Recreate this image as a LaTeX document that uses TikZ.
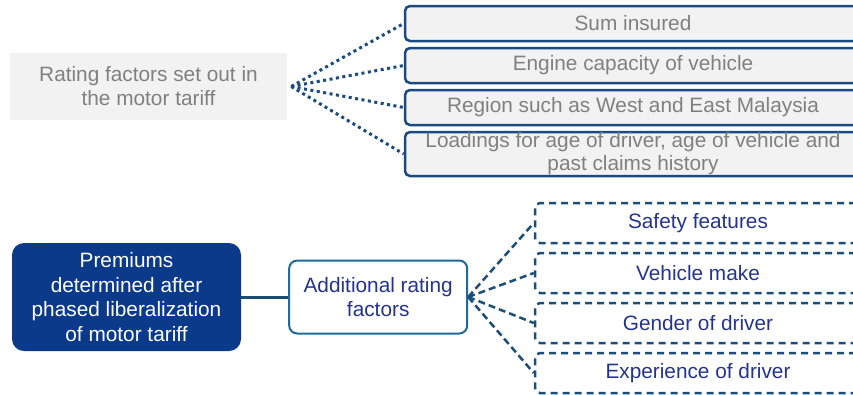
\documentclass[tikz,border=0pt]{standalone}
\usepackage{fontspec}
\setmainfont{Liberation Sans}
\usepackage{xcolor}
\usetikzlibrary{positioning}
\definecolor{tarblue}{RGB}{26,74,130}
\definecolor{tarfill}{RGB}{242,242,242}
\definecolor{tartext}{RGB}{128,128,128}
\definecolor{navyfill}{RGB}{11,58,138}
\definecolor{addblue}{RGB}{30,106,154}
\definecolor{addtext}{RGB}{36,52,142}
\definecolor{dashblue}{RGB}{28,78,122}
\definecolor{linkblue}{RGB}{26,76,112}

\begin{document}
\begin{tikzpicture}[x=1pt, y=-1pt, font=\fontsize{20.8}{24}\selectfont,
  tarbox/.style={draw=tarblue, line width=2.5pt, fill=tarfill, rounded corners=5pt,
    minimum width=456pt, minimum height=35pt, inner sep=0pt, text=tartext, align=center},
  dashbox/.style={draw=dashblue, line width=2.5pt, dash pattern=on 7pt off 5pt, rounded corners=5pt,
    minimum width=326pt, minimum height=40pt, inner sep=0pt, text=addtext},
  dotlink/.style={draw=tarblue, line width=3pt, dash pattern=on 3pt off 3.5pt},
  dashlink/.style={draw=dashblue, line width=2.5pt, dash pattern=on 7pt off 4pt}]
  \useasboundingbox (0,0) rectangle (853,394);
  \clip (0,0) rectangle (853,394);

  % tariff factors
  \node[fill=gray!10, minimum width=277pt, minimum height=67pt, text=tartext, align=center] (tariff) at (148.5,86.5) {Rating factors set out in\\the motor tariff};
  \node[tarbox] (sum) at (633,23.5) {Sum insured};
  \node[tarbox, below=4.5pt of sum] (engine) {Engine capacity of vehicle};
  \node[tarbox, below=4.5pt of engine] (region) {Region such as West and East Malaysia};
  \node[tarbox, below=4.5pt of region, minimum height=44pt, font=\fontsize{20.8}{23}\selectfont] (loading) {Loadings for age of driver, age of vehicle and\\past claims history};

  % liberalized premiums
  \node[fill=navyfill, rounded corners=12pt, minimum width=229pt, minimum height=108pt, text=white, align=center,
    font=\fontsize{20.8}{24.5}\selectfont] (prem) at (126.5,297) {Premiums\\determined after\\phased liberalization\\of motor tariff};
  \node[draw=addblue, line width=2pt, fill=white, rounded corners=8pt, minimum width=178pt, minimum height=73pt,
    text=addtext, align=center, right=47pt of prem] (addl) {Additional rating\\factors};
  \node[dashbox] (safety) at (698,223) {Safety features};
  \node[dashbox, below=7.5pt of safety] (make) {Vehicle make};
  \node[dashbox, below=7.5pt of make] (gender) {Gender of driver};
  \node[dashbox, below=7.5pt of gender] (exper) {Experience of driver};

  \draw[draw=linkblue, line width=3pt] (prem) -- (addl);
  \foreach \n in {sum,engine,region,loading}
    \draw[dotlink] ([xshift=4pt]tariff.east) -- (\n.west);
  \foreach \n in {safety,make,gender,exper}
    \draw[dashlink] (addl.east) -- (\n.west);
\end{tikzpicture}
\end{document}
